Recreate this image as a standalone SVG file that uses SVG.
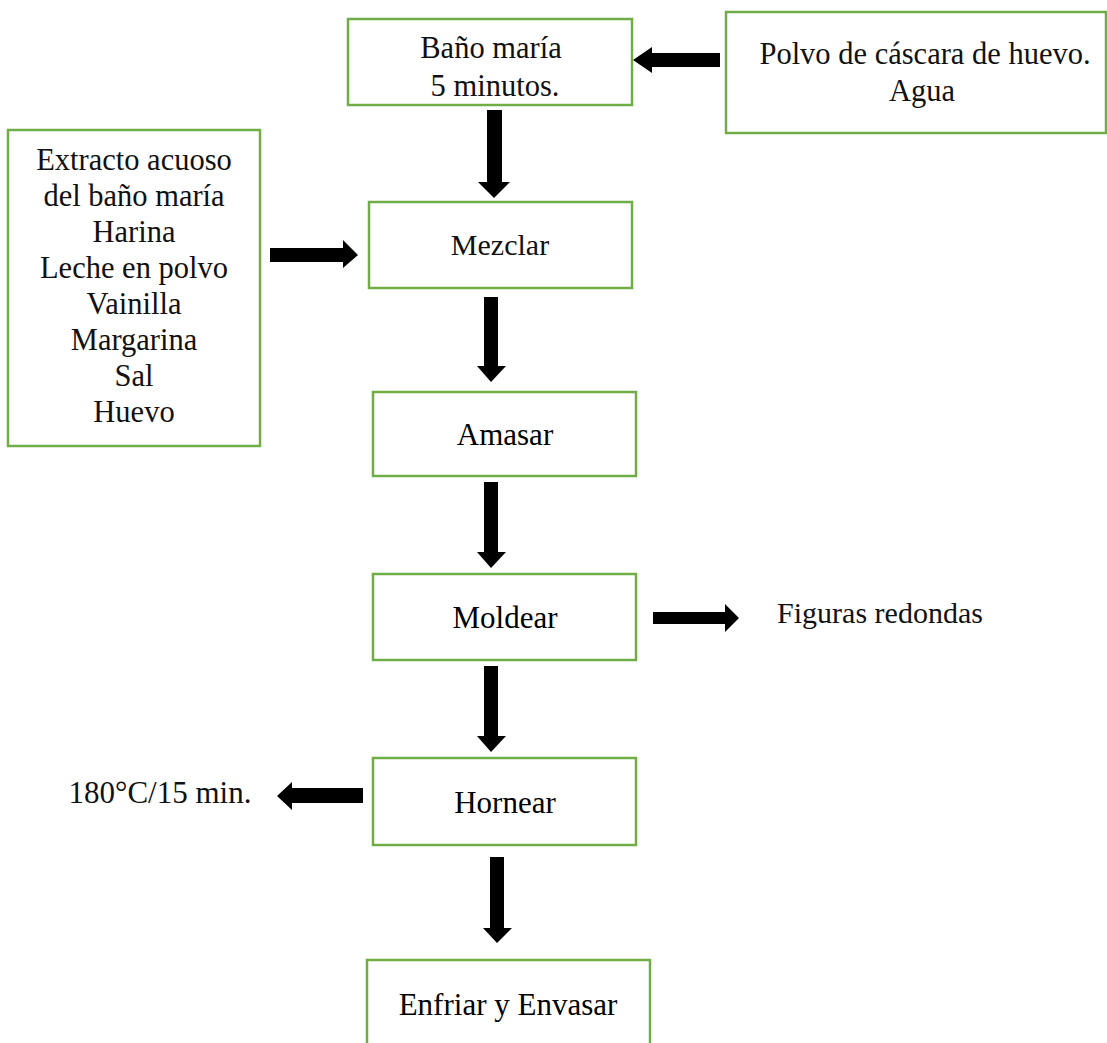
<svg xmlns="http://www.w3.org/2000/svg" width="1107" height="1043" viewBox="0 0 1107 1043">
<style>
.box{fill:#fff;stroke:#70AD47;stroke-width:2.5}
.g{font-family:"Liberation Serif","Times New Roman",serif;font-size:30px;fill:#111;text-anchor:middle}
.t{font-family:"Liberation Serif","Times New Roman",serif;font-size:31px;fill:#000;text-anchor:middle}
.arr{fill:#000}
</style>
<rect width="1107" height="1043" fill="#fff"/>
<g id="bano">
<rect class="box" x="348" y="19" width="284" height="86"/>
<text class="g" x="491" y="58" style="font-size:30.5px">Baño maría</text>
<text class="g" x="495" y="96" style="font-size:30.5px">5 minutos.</text>
</g>
<g id="polvo">
<rect class="box" x="726" y="12" width="380" height="121"/>
<text class="g" x="925" y="64" style="font-size:30.5px">Polvo de cáscara de huevo.</text>
<text class="g" x="922" y="101" style="font-size:30.5px">Agua</text>
</g>
<g id="ingredientes">
<rect class="box" x="8" y="130" width="252" height="316"/>
<text class="g" x="134" y="170" style="font-size:30.5px">Extracto acuoso</text>
<text class="g" x="134" y="206" style="font-size:30.5px">del baño maría</text>
<text class="g" x="134" y="242" style="font-size:30.5px">Harina</text>
<text class="g" x="134" y="278" style="font-size:30.5px">Leche en polvo</text>
<text class="g" x="134" y="314" style="font-size:30.5px">Vainilla</text>
<text class="g" x="134" y="350" style="font-size:30.5px">Margarina</text>
<text class="g" x="134" y="386" style="font-size:30.5px">Sal</text>
<text class="g" x="134" y="422" style="font-size:30.5px">Huevo</text>
</g>
<g id="mezclar">
<rect class="box" x="369" y="202" width="263" height="86"/>
<text class="g" x="500" y="255">Mezclar</text>
</g>
<g id="amasar">
<rect class="box" x="373" y="392" width="263" height="84"/>
<text class="t" x="505" y="445">Amasar</text>
</g>
<g id="moldear">
<rect class="box" x="373" y="574" width="263" height="86"/>
<text class="t" x="505" y="628">Moldear</text>
</g>
<g id="figuras">
<text class="g" x="880" y="623">Figuras redondas</text>
</g>
<g id="hornear">
<rect class="box" x="373" y="758" width="263" height="87"/>
<text class="t" x="505" y="813">Hornear</text>
</g>
<g id="temp">
<text class="g" x="160" y="803" style="font-size:31px">180°C/15 min.</text>
</g>
<g id="enfriar">
<rect class="box" x="367" y="960" width="283" height="100"/>
<text class="t" x="508" y="1015">Enfriar y Envasar</text>
</g>
<g id="connectors">
<polygon class="arr" points="720,53 652,53 652,47 633,60 652,73 652,67 720,67"/>
<polygon class="arr" points="487,110 502,110 502,182 510,182 494,198 478,182 487,182"/>
<polygon class="arr" points="270,248 343,248 343,240 358,255 343,268 343,262 270,262"/>
<polygon class="arr" points="484,297 498,297 498,366 506,366 491,382 477,366 484,366"/>
<polygon class="arr" points="484,482 498,482 498,552 506,552 491,568 477,552 484,552"/>
<polygon class="arr" points="653,612 725,612 725,604 739,618 725,632 725,624 653,624"/>
<polygon class="arr" points="484,666 498,666 498,736 506,736 491,752 477,736 484,736"/>
<polygon class="arr" points="363,788 292,788 292,782 277,796 292,810 292,803 363,803"/>
<polygon class="arr" points="490,857 504,857 504,928 512,928 497,943 483,928 490,928"/>
</g>
</svg>
